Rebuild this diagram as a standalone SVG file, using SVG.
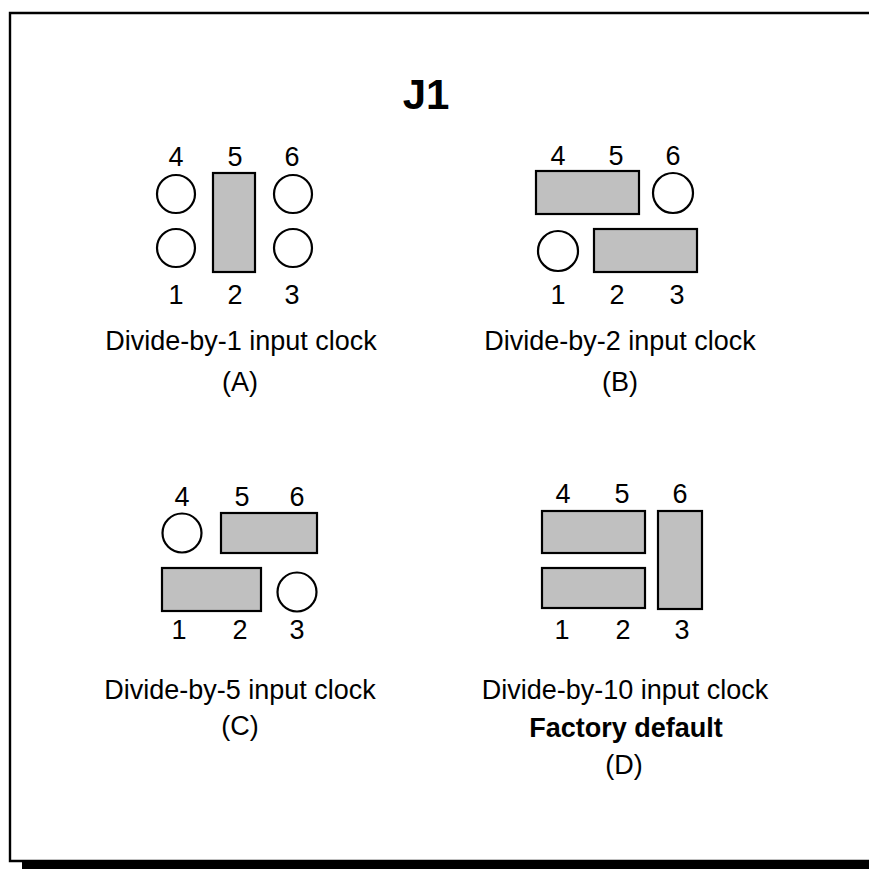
<svg xmlns="http://www.w3.org/2000/svg" width="869" height="869" viewBox="0 0 869 869">
<style>
  text { font-family: "Liberation Sans", Arial, sans-serif; font-size: 27px; fill: #000; text-anchor: middle; }
  .title { font-size: 42px; font-weight: bold; }
  .bold { font-weight: bold; }
  .pin { fill: #fff; stroke: #000; stroke-width: 2.2; }
  .jmp { fill: #c0c0c0; stroke: #000; stroke-width: 2.2; }
</style>
<rect width="869" height="869" fill="#fff"/>
<g id="frame">
  <path d="M869 13 H10 V861 H869" fill="none" stroke="#000" stroke-width="2.4"/>
  <rect x="22" y="861" width="847" height="8" fill="#000"/>
</g>
<g id="title">
  <text class="title" x="426" y="109">J1</text>
</g>
<g id="connectors"></g>
<g id="config-A">
  <circle class="pin" cx="176" cy="194" r="19"/>
  <circle class="pin" cx="176" cy="248" r="19"/>
  <rect class="jmp" x="213" y="173" width="42" height="99"/>
  <circle class="pin" cx="293" cy="194" r="19"/>
  <circle class="pin" cx="293" cy="248" r="19"/>
  <text x="176" y="166">4</text>
  <text x="235" y="166">5</text>
  <text x="292" y="166">6</text>
  <text x="176" y="304">1</text>
  <text x="235" y="304">2</text>
  <text x="292" y="304">3</text>
  <text x="241" y="350">Divide-by-1 input clock</text>
  <text x="240" y="391">(A)</text>
</g>
<g id="config-B">
  <rect class="jmp" x="536" y="171" width="103" height="43"/>
  <circle class="pin" cx="673" cy="193" r="20"/>
  <circle class="pin" cx="558" cy="251" r="20"/>
  <rect class="jmp" x="594" y="229" width="103" height="43"/>
  <text x="558" y="165">4</text>
  <text x="616" y="165">5</text>
  <text x="673" y="165">6</text>
  <text x="558" y="304">1</text>
  <text x="617" y="304">2</text>
  <text x="677" y="304">3</text>
  <text x="620" y="350">Divide-by-2 input clock</text>
  <text x="620" y="391">(B)</text>
</g>
<g id="config-C">
  <circle class="pin" cx="182" cy="533" r="19.5"/>
  <rect class="jmp" x="221" y="513" width="96" height="40"/>
  <rect class="jmp" x="162" y="568" width="99" height="43"/>
  <circle class="pin" cx="297" cy="592" r="19.5"/>
  <text x="182" y="506">4</text>
  <text x="242" y="506">5</text>
  <text x="297" y="506">6</text>
  <text x="179" y="639">1</text>
  <text x="240" y="639">2</text>
  <text x="297" y="639">3</text>
  <text x="240" y="699">Divide-by-5 input clock</text>
  <text x="240" y="735">(C)</text>
</g>
<g id="config-D">
  <rect class="jmp" x="542" y="511" width="103" height="42"/>
  <rect class="jmp" x="542" y="568" width="103" height="40"/>
  <rect class="jmp" x="658" y="511" width="44" height="98"/>
  <text x="563" y="503">4</text>
  <text x="622" y="503">5</text>
  <text x="680" y="503">6</text>
  <text x="562" y="639">1</text>
  <text x="623" y="639">2</text>
  <text x="682" y="639">3</text>
  <text x="625" y="699">Divide-by-10 input clock</text>
  <text class="bold" x="626" y="737">Factory default</text>
  <text x="624" y="774">(D)</text>
</g>
</svg>
